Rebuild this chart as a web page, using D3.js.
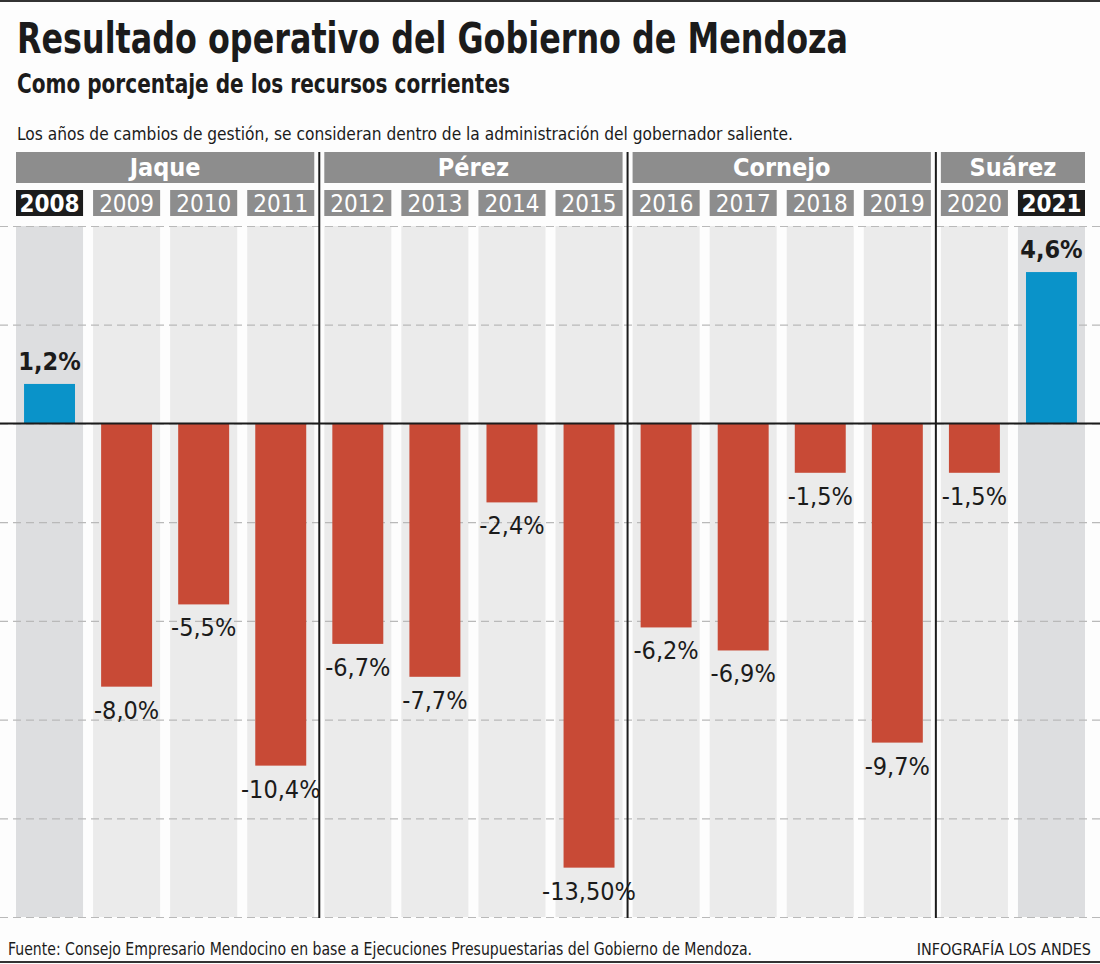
<!DOCTYPE html>
<html>
<head>
<meta charset="utf-8">
<script src="https://cdn.jsdelivr.net/npm/d3@7"></script>
<style>
  body { margin: 0; background: #fdfdfd; }
  svg { display: block; }
  text { font-family: "Liberation Sans Narrow", "DejaVu Sans Condensed", "Roboto", sans-serif; }
</style>
</head>
<body>
<svg id="chart"></svg>
<script>
// data
var years = ["2008", "2009", "2010", "2011", "2012", "2013", "2014", "2015",
             "2016", "2017", "2018", "2019", "2020", "2021"]
var values = [1.2, -8.0, -5.5, -10.4, -6.7, -7.7, -2.4, -13.5,
              -6.2, -6.9, -1.5, -9.7, -1.5, 4.6]
var valueLabels = ["1,2%", "-8,0%", "-5,5%", "-10,4%", "-6,7%", "-7,7%", "-2,4%", "-13,50%",
                   "-6,2%", "-6,9%", "-1,5%", "-9,7%", "-1,5%", "4,6%"]
var governors = ["Jaque", "Pérez", "Cornejo", "Suárez"]
var governorFirst = ["2008", "2012", "2016", "2020"]
var governorLast = ["2011", "2015", "2019", "2021"]
var highlightYears = ["2008", "2021"]
var gridTicks = [6, 3, 0, -3, -6, -9, -12, -15]

var width = 1100, height = 964

var svg = d3.select("#chart")
    .attr("width", width)
    .attr("height", height)

var x = d3.scaleBand()
    .domain(years)
    .range([16, 1085])
    .paddingInner(0.13)
var y = d3.scaleLinear()
    .domain([-15, 6])
    .range([917, 226])

var bw = x.bandwidth()
var barW = bw * 0.76

// top and bottom rules
svg.append("rect").attr("x", 0).attr("y", 0).attr("width", width).attr("height", 2).attr("fill", "#333")
svg.append("rect").attr("x", 0).attr("y", 961).attr("width", width).attr("height", 2).attr("fill", "#333")

// titles
svg.append("text")
    .attr("x", 17).attr("y", 53)
    .attr("font-size", 43).attr("font-weight", "bold").attr("fill", "#1b1b1b")
    .attr("textLength", 831).attr("lengthAdjust", "spacingAndGlyphs")
    .text("Resultado operativo del Gobierno de Mendoza")
svg.append("text")
    .attr("x", 17).attr("y", 93)
    .attr("font-size", 26).attr("font-weight", "bold").attr("fill", "#1b1b1b")
    .attr("textLength", 493).attr("lengthAdjust", "spacingAndGlyphs")
    .text("Como porcentaje de los recursos corrientes")
svg.append("text")
    .attr("x", 17).attr("y", 140)
    .attr("font-size", 18).attr("fill", "#1b1b1b")
    .attr("textLength", 776).attr("lengthAdjust", "spacingAndGlyphs")
    .text("Los años de cambios de gestión, se consideran dentro de la administración del gobernador saliente.")

// column backgrounds
svg.append("g").selectAll("rect")
    .data(years)
    .join("rect")
    .attr("x", function(d) { return x(d) })
    .attr("y", y(6))
    .attr("width", bw)
    .attr("height", y(-15) - y(6))
    .attr("fill", function(d) { return highlightYears.indexOf(d) >= 0 ? "#dddee0" : "#ebebeb" })

// dashed grid
var grid = svg.append("g")
    .call(d3.axisRight(y).tickValues(gridTicks).tickSize(width).tickFormat(""))
grid.select(".domain").remove()
grid.selectAll(".tick line")
    .attr("stroke", "#b9b9b9")
    .attr("stroke-width", 1.2)
    .attr("stroke-dasharray", "8,5")

// governor headers
var head = svg.append("g")
governors.forEach(function(g, i) {
    var x0 = x(governorFirst[i])
    var x1 = x(governorLast[i]) + bw
    head.append("rect")
        .attr("x", x0).attr("y", 152)
        .attr("width", x1 - x0).attr("height", 31)
        .attr("fill", "#8d8d8d")
    head.append("text")
        .attr("x", (x0 + x1) / 2).attr("y", 176)
        .attr("text-anchor", "middle")
        .attr("font-size", 25).attr("font-weight", "bold").attr("fill", "#fff")
        .text(g)
})

// year boxes
var yearG = svg.append("g").selectAll("g")
    .data(years)
    .join("g")
yearG.append("rect")
    .attr("x", function(d) { return x(d) })
    .attr("y", 190)
    .attr("width", bw)
    .attr("height", 26)
    .attr("fill", function(d) { return highlightYears.indexOf(d) >= 0 ? "#1c1c1c" : "#8d8d8d" })
yearG.append("text")
    .attr("x", function(d) { return x(d) + bw / 2 })
    .attr("y", 212)
    .attr("text-anchor", "middle")
    .attr("font-size", 24)
    .attr("font-weight", function(d) { return d == "2021" ? "bold" : d == "2008" ? 600 : "normal" })
    .attr("fill", "#fff")
    .text(function(d) { return d })

// bars
svg.append("g").selectAll("rect")
    .data(values)
    .join("rect")
    .attr("x", function(d, i) { return x(years[i]) + (bw - barW) / 2 })
    .attr("y", function(d) { return y(Math.max(0, d)) })
    .attr("width", barW)
    .attr("height", function(d) { return Math.abs(y(d) - y(0)) })
    .attr("fill", function(d) { return d >= 0 ? "#0a93c9" : "#c84a36" })

// zero line
svg.append("line")
    .attr("x1", 0).attr("x2", width)
    .attr("y1", y(0)).attr("y2", y(0))
    .attr("stroke", "#1b1b1b").attr("stroke-width", 2)

// separators between governors
svg.append("g").selectAll("line")
    .data(governorFirst.slice(1))
    .join("line")
    .attr("x1", function(d) { return x(d) - x.step() * x.paddingInner() / 2 })
    .attr("x2", function(d) { return x(d) - x.step() * x.paddingInner() / 2 })
    .attr("y1", 152)
    .attr("y2", 918)
    .attr("stroke", "#1b1b1b")
    .attr("stroke-width", 2)

// value labels
svg.append("g").selectAll("text")
    .data(values)
    .join("text")
    .attr("x", function(d, i) { return x(years[i]) + bw / 2 })
    .attr("y", function(d) { return d >= 0 ? y(d) - 14 : y(d) + 32 })
    .attr("text-anchor", "middle")
    .attr("font-size", 25)
    .attr("font-weight", function(d) { return d >= 0 ? "bold" : "normal" })
    .attr("fill", "#1b1b1b")
    .text(function(d, i) { return valueLabels[i] })

// footer
svg.append("text")
    .attr("x", 8).attr("y", 955)
    .attr("font-size", 18).attr("fill", "#1b1b1b")
    .attr("textLength", 744).attr("lengthAdjust", "spacingAndGlyphs")
    .text("Fuente: Consejo Empresario Mendocino en base a Ejecuciones Presupuestarias del Gobierno de Mendoza.")
svg.append("text")
    .attr("x", 1091).attr("y", 955)
    .attr("text-anchor", "end")
    .attr("font-size", 16).attr("fill", "#1b1b1b")
    .text("INFOGRAFÍA LOS ANDES")
</script>
</body>
</html>
